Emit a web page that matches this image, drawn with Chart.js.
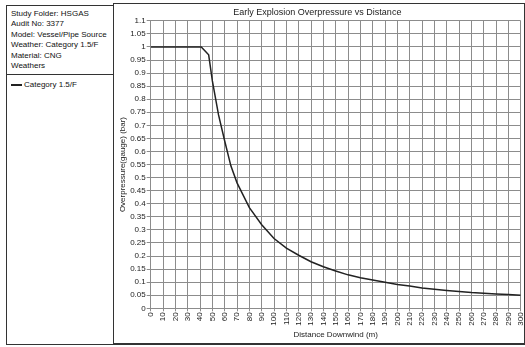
<!DOCTYPE html>
<html>
<head>
<meta charset="utf-8">
<script src="https://cdn.jsdelivr.net/npm/chart.js@4/dist/chart.umd.min.js"></script>
<style>
  html, body { margin: 0; padding: 0; background: #fff; }
  body { width: 525px; height: 347px; position: relative; overflow: hidden;
         font-family: 'Liberation Sans', Arial, sans-serif; }
  #infoBox { position: absolute; left: 6px; top: 5px; width: 106px; height: 338px;
             border: 1px solid #333; border-right: none; }
  #info { position: absolute; left: 4px; top: 3px; font-size: 8px; line-height: 10.4px;
          color: #111; white-space: nowrap; }
  #sep { position: absolute; left: 0; top: 68px; width: 106px; border-top: 1px solid #333; }
  #legend { position: absolute; left: 4px; top: 74px; font-size: 8px; line-height: 10px;
            color: #111; white-space: nowrap; }
  #legend span.swatch { display: inline-block; width: 11px; height: 2px; background: #222;
                        vertical-align: middle; margin-right: 2px; }
  #plotBox { position: absolute; left: 113px; top: 3px; width: 410px; height: 339px;
             border: 1px solid #333; border-bottom-width: 2px; }
  #chartWrap { position: absolute; left: 0; top: 0; }
</style>
</head>
<body>
<div id="plotBox"></div>
<div id="infoBox">
  <div id="info"></div>
  <div id="sep"></div>
  <div id="legend"></div>
</div>
<div id="chartWrap"><canvas id="overpressureChart" width="525" height="347"></canvas></div>
<script>
// Run description shown in the side panel
const infoLines = [
    'Study Folder: HSGAS',
    'Audit No: 3377',
    'Model: Vessel/Pipe Source',
    'Weather: Category 1.5/F',
    'Material: CNG',
    'Weathers'
];
const seriesName = 'Category 1.5/F';

// Distance downwind (m) and overpressure (bar gauge)
const distances = [0, 10, 20, 30, 40, 41, 47, 50, 55, 60, 65, 70, 80, 90, 100, 110, 120, 130, 140, 150,
                   160, 170, 180, 190, 200, 210, 220, 230, 240, 250, 260, 270, 280, 290, 300];
const overpressure = [1, 1, 1, 1, 1, 1, 0.97, 0.87, 0.74, 0.64, 0.545, 0.48, 0.385, 0.32, 0.267, 0.23, 0.203, 0.178, 0.159, 0.143,
                      0.128, 0.117, 0.108, 0.1, 0.091, 0.085, 0.078, 0.073, 0.068, 0.064, 0.06, 0.058, 0.055, 0.053, 0.05];

document.getElementById('info').innerHTML = infoLines.join('<br>');
document.getElementById('legend').innerHTML = '<span class="swatch"></span>' + seriesName;

const fontFamily = "'Liberation Sans', Arial, sans-serif";
const gridColor = '#8c8c8c';

const ctx = document.getElementById('overpressureChart').getContext('2d');

const config = {
    type: 'scatter',
    data: {
        datasets: [{
            label: seriesName,
            data: distances.map((d, i) => ({ x: d, y: overpressure[i] })),
            showLine: true,
            borderColor: '#222',
            borderWidth: 1.5,
            pointRadius: 0,
            tension: 0
        }]
    },
    options: {
        responsive: false,
        animation: false,
        devicePixelRatio: 1,
        layout: { padding: { left: 114, right: 4.3, top: 3, bottom: 6 } },
        scales: {
            x: {
                type: 'linear',
                min: 0,
                max: 300,
                grid: { color: gridColor, tickLength: 3 },
                border: { color: gridColor },
                ticks: {
                    stepSize: 10,
                    autoSkip: false,
                    maxRotation: 90,
                    minRotation: 90,
                    padding: 1,
                    color: '#222',
                    font: { family: fontFamily, size: 8 }
                },
                title: {
                    display: true,
                    text: 'Distance Downwind (m)',
                    color: '#222',
                    padding: { top: 0, bottom: 1 },
                    font: { family: fontFamily, size: 8 }
                },
                afterFit: scale => {
                    scale.height = 32.7;
                    scale.paddingLeft = 0;
                    scale.paddingRight = 0;
                }
            },
            y: {
                min: 0,
                max: 1.1,
                grid: { color: gridColor, tickLength: 4 },
                border: { color: gridColor },
                ticks: {
                    stepSize: 0.05,
                    padding: 1,
                    color: '#222',
                    font: { family: fontFamily, size: 8 },
                    callback: v => String(+v.toFixed(2))
                },
                title: {
                    display: true,
                    text: 'Overpressure(gauge) (bar)',
                    color: '#222',
                    padding: { top: 4, bottom: 0 },
                    font: { family: fontFamily, size: 8 }
                },
                afterFit: scale => {
                    scale.width = 36.7;
                    scale.paddingTop = 0;
                    scale.paddingBottom = 0;
                }
            }
        },
        plugins: {
            legend: { display: false },
            tooltip: { enabled: false },
            title: {
                display: true,
                text: 'Early Explosion Overpressure vs Distance',
                color: '#222',
                padding: { top: 4, bottom: 3 },
                font: { family: fontFamily, size: 9, weight: 'normal' }
            }
        }
    }
};

new Chart(ctx, config);
</script>
</body>
</html>
